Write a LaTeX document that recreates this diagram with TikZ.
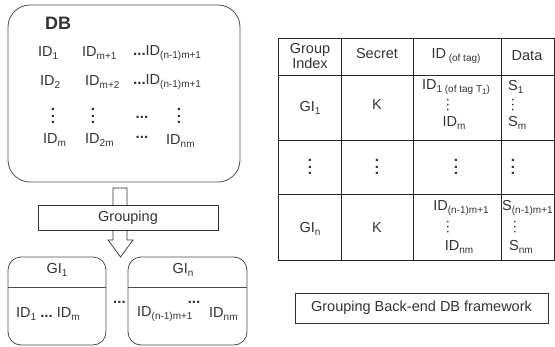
\documentclass[tikz,border=0pt]{standalone}
\usepackage{fontspec}
\setmainfont{Liberation Sans}
\usetikzlibrary{positioning}
\newcommand{\sub}[1]{\raisebox{-3.2pt}{\fontsize{10}{10}\selectfont #1}}
\newcommand{\ssub}[1]{\raisebox{-1.5pt}{\fontsize{8}{8}\selectfont #1}}
\newcommand{\hdts}{{\fontsize{15}{15}\selectfont\bfseries ...}}
\newcommand{\vdts}[1]{.\kern#1.\kern#1.}

\begin{document}
\begin{tikzpicture}[x=1pt, y=-1pt,
    every node/.style={font=\fontsize{14.5}{15}\selectfont, text=black!80, inner sep=1pt},
    rbox/.style={draw=black!70, line width=0.8pt, rounded corners=#1},
    vdt/.style={rotate=90, font=\fontsize{15}{15}\selectfont\bfseries},
    svdt/.style={rotate=90, font=\fontsize{10}{10}\selectfont\bfseries},
    grid/.style={draw=black!85, line width=0.7pt},
    flat/.style={draw=black!80, line width=0.7pt, fill=white},
  ]
    \useasboundingbox (0,0) rectangle (555,346);
    % database with all tag IDs
    \node[rbox=22, minimum width=232, minimum height=177] (db) at (124,93.5) {};
    \node[font=\fontsize{18}{18}\selectfont\bfseries, anchor=west] (dbl) at (44,23) {DB};
    \node[anchor=west] (a1) at (37,53)  {ID\sub{1}};
    \node[anchor=west] (b1) at (81,53)  {ID\sub{m+1}};
    \node[anchor=west] (c1) at (132,53) {\hdts ID\sub{(n-1)m+1}};
    \node[anchor=west] (a2) at (39,82)  {ID\sub{2}};
    \node[anchor=west] (b2) at (84,82)  {ID\sub{m+2}};
    \node[anchor=west] (c2) at (132,82) {\hdts ID\sub{(n-1)m+1}};
    \node[vdt] (a3) at (53,116)  {\vdts{2.5pt}};
    \node[vdt] (b3) at (93,116)  {\vdts{2.5pt}};
    \node[font=\fontsize{15}{15}\selectfont\bfseries] (h3) at (142,117) {...};
    \node[vdt] (c3) at (179,116) {\vdts{2.5pt}};
    \node[anchor=west] (a4) at (42,140)  {ID\sub{m}};
    \node[anchor=west] (b4) at (84,140)  {ID\sub{2m}};
    \node[font=\fontsize{15}{15}\selectfont\bfseries] (h4) at (142,137) {...};
    \node[anchor=west] (c4) at (165,141) {ID\sub{nm}};

    % block arrow through the grouping step
    \draw[flat] (113,188) -- (113,240) -- (108,240) -- (120.5,257)
      -- (133,240) -- (127,240) -- (127,188) -- cycle;
    \node[flat, minimum width=180, minimum height=25] (grp) at (128,217.5) {Grouping};

    % groups after splitting
    \node[rbox=13, minimum width=98, minimum height=88] (g1) at (57,301) {};
    \node[rbox=13, minimum width=119, minimum height=88] (gn) at (187.5,301) {};
    \draw[draw=black!70, line width=0.8pt] ([yshift=-31]g1.north west) -- ([yshift=-31]g1.north east);
    \draw[draw=black!70, line width=0.8pt] ([yshift=-31]gn.north west) -- ([yshift=-31]gn.north east);
    \node (g1t) at (57,270)  {GI\sub{1}};
    \node (gnt) at (183,270) {GI\sub{n}};
    \node[anchor=west] (g1i) at (15,314) {ID\sub{1} \hdts\ ID\sub{m}};
    \node[anchor=west] (gni) at (136,314) {ID\sub{(n-1)m+1}};
    \node (gnd) at (194,302) {\hdts};
    \node[anchor=west] (gnm) at (208,314) {ID\sub{nm}};
    \node (mid) at (119.5,302) {\hdts};

    % back-end table
    \foreach \y in {38,75,140,194,260}
      \draw[grid] (278,\y) -- (554.5,\y);
    \foreach \x in {278,341,413,501,554.5}
      \draw[grid] (\x,38) -- (\x,260);
    \node[align=center, font=\fontsize{14.5}{15.5}\selectfont] (h1) at (310,56) {Group\\Index};
    \node (h2) at (377,54) {Secret};
    \node (h3t) at (456,56) {ID\sub{~(of tag)}};
    \node (h4t) at (527,56) {Data};
    % first group
    \node (r1a) at (310,108) {GI\sub{1}};
    \node (r1b) at (377,105) {K};
    \node (r1c) at (456,87)  {ID\sub{1 (of tag T\ssub{1})}};
    \node[svdt] (r1d) at (448,105) {\vdts{2.5pt}};
    \node (r1e) at (454,123) {ID\sub{m}};
    \node[anchor=west] (r1f) at (507,87)  {S\sub{1}};
    \node[svdt] (r1g) at (513,105) {\vdts{2.5pt}};
    \node[anchor=west] (r1h) at (507,123) {S\sub{m}};
    % middle rows
    \foreach \x in {310,377,456,513}
      \node[vdt] at (\x,167) {\vdts{2.5pt}};
    % last group
    \node (r3a) at (310,229) {GI\sub{n}};
    \node (r3b) at (377,228) {K};
    \node (r3c) at (461,208) {ID\sub{(n-1)m+1}};
    \node[svdt] (r3d) at (448,227) {\vdts{2.5pt}};
    \node (r3e) at (459,247) {ID\sub{nm}};
    \node[anchor=west] (r3f) at (501,208) {S\sub{(n-1)m+1}};
    \node[svdt] (r3g) at (515,227) {\vdts{2.5pt}};
    \node[anchor=west] (r3h) at (508,247) {S\sub{nm}};

    \node[flat, minimum width=253, minimum height=30] (cap) at (421.5,308)
      {Grouping Back-end DB framework};
\end{tikzpicture}
\end{document}
